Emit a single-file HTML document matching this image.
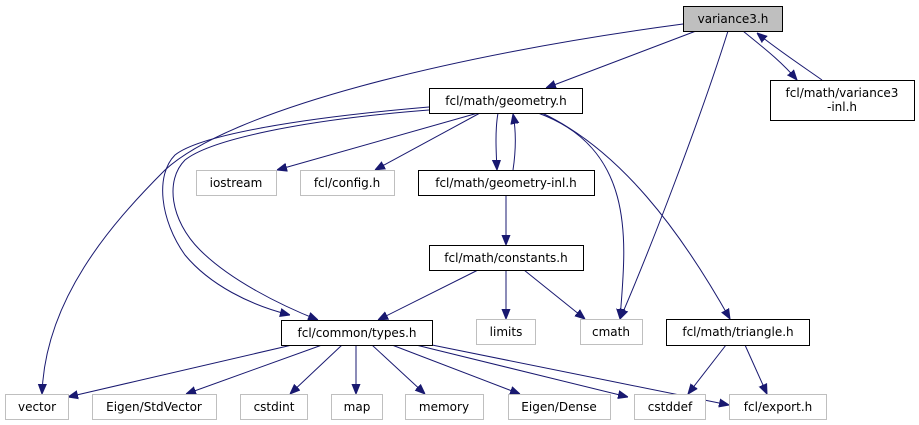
<!DOCTYPE html>
<html><head><meta charset="utf-8"><style>
html,body{margin:0;padding:0;background:#fff;}
svg{display:block;}
text{font-family:"DejaVu Sans","Liberation Sans",sans-serif;font-size:12px;fill:#000;}
</style></head><body>
<svg width="919" height="425" viewBox="0 0 919 425" xmlns="http://www.w3.org/2000/svg">
<defs>
<marker id="a" viewBox="0 0 10 10" refX="10" refY="5" markerWidth="10" markerHeight="10" markerUnits="userSpaceOnUse" orient="auto"><path d="M0,1 L10,5 L0,9 z" fill="#191970" stroke="#191970"/></marker>
</defs>
<g fill="none" stroke="#191970" stroke-width="1" marker-end="url(#a)">
<path d="M696,31 L546,88"/>
<path d="M683,24 C450,55 230,110 165,170 C110,225 45,300 42,394"/>
<path d="M728,31 C700,120 650,250 620,319"/>
<path d="M743,31 C760,45 780,60 797,80"/>
<path d="M822,80 C805,68 775,48 757,33"/>
<path d="M498,113 C495,130 496,150 497,170"/>
<path d="M513,170 C516,150 516,130 513,114"/>
<path d="M478,113 L277,170"/>
<path d="M480,113 L375,170"/>
<path d="M538,113 C640,150 625,250 620,319"/>
<path d="M542,113 C620,150 680,230 730,319"/>
<path d="M429,107 C300,118 200,135 175,155 C155,175 160,220 185,255 C210,285 250,305 290,315"/>
<path d="M429,110 C300,120 210,140 185,160 C165,180 170,220 200,250 C230,280 280,305 318,320"/>
<path d="M506,195 L506,245"/>
<path d="M478,270 L378,320"/>
<path d="M506,270 L506,319"/>
<path d="M524,270 L585,319"/>
<path d="M292,345 L68,397"/>
<path d="M322,345 L186,394"/>
<path d="M342,345 L290,394"/>
<path d="M356,345 L356,394"/>
<path d="M372,345 L425,394"/>
<path d="M392,345 L520,394"/>
<path d="M416,345 L628,397"/>
<path d="M432,345 L729,405"/>
<path d="M726,345 L688,394"/>
<path d="M745,345 L767,394"/>
</g>
<g stroke-width="1">
<rect x="683.5" y="6.5" width="99" height="25" fill="#bfbfbf" stroke="#000"/>
<rect x="770.5" y="80.5" width="144" height="40" fill="#fff" stroke="#000"/>
<rect x="429.5" y="88.5" width="153" height="25" fill="#fff" stroke="#000"/>
<rect x="418.5" y="170.5" width="176" height="25" fill="#fff" stroke="#000"/>
<rect x="429.5" y="245.5" width="154" height="25" fill="#fff" stroke="#000"/>
<rect x="281.5" y="320.5" width="151" height="25" fill="#fff" stroke="#000"/>
<rect x="666.5" y="319.5" width="143" height="26" fill="#fff" stroke="#000"/>
<g fill="#fff" stroke="#bfbfbf">
<rect x="196.5" y="170.5" width="80" height="25"/>
<rect x="300.5" y="170.5" width="94" height="25"/>
<rect x="476.5" y="319.5" width="59" height="25"/>
<rect x="580.5" y="319.5" width="62" height="25"/>
<rect x="5.5" y="394.5" width="63" height="25"/>
<rect x="92.5" y="394.5" width="124" height="25"/>
<rect x="240.5" y="394.5" width="67" height="25"/>
<rect x="331.5" y="394.5" width="51" height="25"/>
<rect x="405.5" y="394.5" width="78" height="25"/>
<rect x="508.5" y="394.5" width="102" height="25"/>
<rect x="634.5" y="394.5" width="71" height="25"/>
<rect x="729.5" y="394.5" width="97" height="25"/>
</g>
</g>
<g text-anchor="middle">
<text x="733" y="23">variance3.h</text>
<text x="842" y="97">fcl/math/variance3</text>
<text x="842" y="111">-inl.h</text>
<text x="506" y="105">fcl/math/geometry.h</text>
<text x="506" y="187">fcl/math/geometry-inl.h</text>
<text x="506" y="262">fcl/math/constants.h</text>
<text x="357" y="337">fcl/common/types.h</text>
<text x="738" y="336">fcl/math/triangle.h</text>
<text x="236" y="187">iostream</text>
<text x="347" y="187">fcl/config.h</text>
<text x="506" y="336">limits</text>
<text x="611" y="336">cmath</text>
<text x="37" y="411">vector</text>
<text x="154" y="411">Eigen/StdVector</text>
<text x="274" y="411">cstdint</text>
<text x="357" y="411">map</text>
<text x="444" y="411">memory</text>
<text x="559" y="411">Eigen/Dense</text>
<text x="670" y="411">cstddef</text>
<text x="778" y="411">fcl/export.h</text>
</g>
</svg>
</body></html>
